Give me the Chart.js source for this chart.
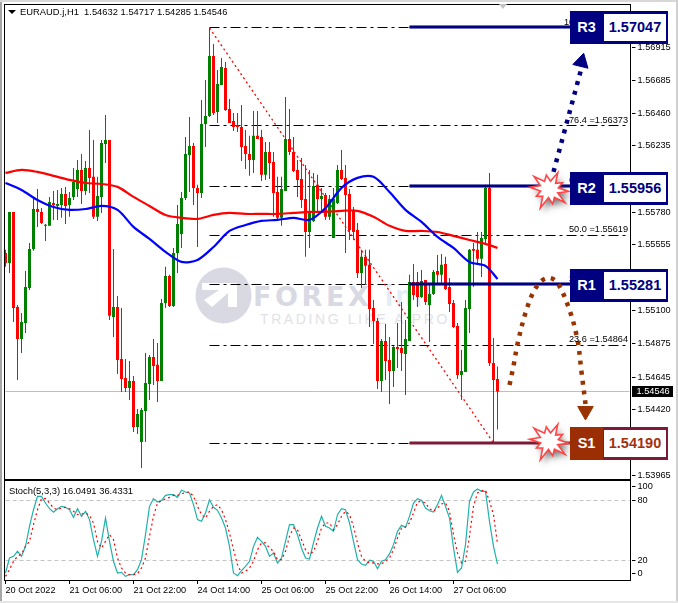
<!DOCTYPE html>
<html><head><meta charset="utf-8">
<script src="https://cdn.jsdelivr.net/npm/chart.js@4"></script>
<style>
html,body{margin:0;padding:0;background:#fff;width:678px;height:603px;overflow:hidden;font-family:"Liberation Sans",Arial,sans-serif}
canvas{position:absolute;left:0}
#main{top:0;z-index:2}#sub{top:480px;z-index:2}
.edge{position:absolute;z-index:1}
.wm{position:absolute;z-index:1;white-space:nowrap;line-height:1}
.txt{position:absolute;z-index:3;font-size:9.4px;color:#000;white-space:pre;line-height:12px}
.badge{position:absolute;z-index:4;left:570px;width:98px;height:33px;box-sizing:border-box;background:var(--c);font-weight:bold;font-family:"Liberation Sans",Arial,sans-serif}
.badge b{position:absolute;left:0;top:0;width:33px;line-height:33px;text-align:center;color:#fff;font-size:14.5px}
.badge i{position:absolute;left:34px;top:3px;width:62px;height:27px;background:#fff;font-style:normal;text-align:center;line-height:27px;font-size:14.5px;color:var(--t)}
</style></head><body>
<div class="edge" style="left:0;top:0;width:2px;height:603px;background:#a6a6a6"></div>
<div class="edge" style="left:0;top:0;width:678px;height:2px;background:#d8d8d8"></div>
<div class="edge" style="left:676px;top:0;width:2px;height:603px;background:#d0d0d0"></div>
<div class="edge" style="left:0;top:601px;width:678px;height:2px;background:#e6e6e6"></div>
<div class="edge" style="left:499px;top:4px;width:0;height:0;border-left:4px solid transparent;border-right:4px solid transparent;border-top:5px solid #c4c4c4;z-index:3"></div>
<svg class="edge" style="left:190px;top:262px" width="70" height="66"><circle cx="33.5" cy="33.5" r="28" fill="#d9d9e3"/><polygon points="12,21 47,21 47,45 38,45 38,31 22,45 14,38 29,28 12,28" fill="#fff"/></svg>
<div class="wm" style="left:253px;top:281px;font:bold 27px 'DejaVu Sans',sans-serif;letter-spacing:3.6px;color:#d9d9e3">FOREX</div>
<div class="wm" style="left:385px;top:279px;font:bold 30px 'Liberation Sans',sans-serif;letter-spacing:2px;color:#e3edf7">imf</div>
<div class="wm" style="left:260px;top:311px;font:14px 'Liberation Sans',sans-serif;letter-spacing:2.6px;color:#e2e2e6">TRADING LIKE A PRO</div>
<canvas id="main" width="678" height="480"></canvas>
<canvas id="sub" width="678" height="123"></canvas>
<div class="edge" style="left:8px;top:10px;width:0;height:0;border-left:4px solid transparent;border-right:4px solid transparent;border-top:4px solid #000;z-index:3"></div>
<div class="txt" style="left:20px;top:6px">EURAUD.j,H1  1.54632 1.54717 1.54285 1.54546</div>
<div class="txt" style="left:9px;top:485px">Stoch(5,3,3) 16.0491 36.4331</div>
<div class="badge" style="top:10.5px;--c:#000080;--t:#000080"><b>R3</b><i>1.57047</i></div>
<div class="badge" style="top:172px;--c:#000080;--t:#000080"><b>R2</b><i>1.55956</i></div>
<div class="badge" style="top:269px;--c:#000080;--t:#000080"><b>R1</b><i>1.55281</i></div>
<div class="badge" style="top:426.5px;--c:#7d1a35;--t:#a5300c"><b style="background:#9c2e06;height:33px">S1</b><i>1.54190</i></div>
<script>
const opens=[1.55499,1.55430,1.55781,1.55127,1.54907,1.55017,1.55258,1.55526,1.55801,1.55781,
1.55685,1.55685,1.55842,1.55822,1.55829,1.55904,1.55829,1.55884,1.55939,1.56070,
1.55925,1.56083,1.56022,1.55747,1.55884,1.56248,1.56276,1.55059,1.55127,1.54769,
1.54639,1.54570,1.54618,1.54302,1.54199,1.54412,1.54597,1.54783,1.54729,1.54618,
1.55154,1.55341,1.55134,1.55499,1.55629,1.55877,1.56172,1.56234,1.55946,1.55911,
1.56385,1.56441,1.56854,1.56468,1.56654,1.56771,1.56489,1.56406,1.56379,1.56365,
1.56234,1.56179,1.56138,1.56304,1.56297,1.56036,1.56193,1.56124,1.55918,1.55740,
1.55925,1.56283,1.56193,1.56070,1.56008,1.55870,1.55643,1.55719,1.55967,1.55870,
1.55897,1.55747,1.55602,1.55842,1.56070,1.56015,1.55904,1.55795,1.55657,1.55361,
1.55472,1.55417,1.55120,1.55031,1.54618,1.54893,1.54763,1.54687,1.54852,1.54845,
1.54804,1.54893,1.55299,1.55299,1.55196,1.55313,1.55141,1.55217,1.55375,1.55348,
1.55423,1.55265,1.55154,1.54997,1.54660,1.54680,1.55114,1.55526,1.55520,1.55458,
1.55595,1.55946,1.54742,1.54632];
const highs=[1.55520,1.55781,1.55781,1.55141,1.55086,1.55375,1.55567,1.55877,1.55939,1.55808,
1.55698,1.55884,1.55925,1.55932,1.55946,1.55953,1.55918,1.56083,1.56138,1.56179,
1.56131,1.56345,1.56276,1.56022,1.56276,1.56448,1.56276,1.55526,1.55203,1.55120,
1.54769,1.54756,1.54653,1.54426,1.54433,1.54810,1.54797,1.54907,1.54879,1.55182,
1.55403,1.55348,1.55533,1.55829,1.55918,1.56297,1.56434,1.56255,1.55967,1.56551,
1.56688,1.57046,1.56936,1.56757,1.56840,1.56812,1.56558,1.56461,1.56461,1.56516,
1.56345,1.56304,1.56475,1.56475,1.56345,1.56262,1.56262,1.56193,1.56022,1.56022,
1.56572,1.56489,1.56297,1.56138,1.56152,1.56104,1.56070,1.56049,1.56036,1.55946,
1.55911,1.55897,1.55946,1.56104,1.56207,1.56104,1.55939,1.55815,1.55705,1.55520,
1.55520,1.55520,1.55175,1.55052,1.54907,1.55010,1.54921,1.54859,1.55017,1.55161,
1.55038,1.55348,1.55423,1.55368,1.55382,1.55313,1.55279,1.55382,1.55485,1.55492,
1.55472,1.55327,1.55175,1.55017,1.54831,1.55175,1.55526,1.55567,1.55643,1.55643,
1.55967,1.56049,1.54914,1.54717];
const lows=[1.55403,1.55361,1.55024,1.54625,1.54810,1.54948,1.55244,1.55513,1.55678,1.55698,
1.55581,1.55685,1.55726,1.55726,1.55740,1.55698,1.55747,1.55863,1.55884,1.55835,
1.55897,1.55911,1.55733,1.55719,1.55774,1.56117,1.55038,1.54921,1.54666,1.54542,
1.54542,1.54488,1.54267,1.54253,1.54020,1.54199,1.54488,1.54591,1.54474,1.54618,
1.55120,1.55127,1.55127,1.55361,1.55533,1.55863,1.55918,1.55829,1.55540,1.55877,
1.56228,1.56434,1.56448,1.56392,1.56654,1.56475,1.56392,1.56338,1.56331,1.56131,
1.56076,1.56029,1.56049,1.56283,1.55994,1.56001,1.56008,1.55747,1.55726,1.55685,
1.55925,1.56172,1.56056,1.55884,1.55808,1.55472,1.55533,1.55712,1.55781,1.55781,
1.55726,1.55726,1.55602,1.55835,1.56001,1.55499,1.55588,1.55588,1.55327,1.55258,
1.55279,1.54990,1.54872,1.54563,1.54542,1.54625,1.54460,1.54577,1.54708,1.54687,
1.54522,1.54893,1.55175,1.55127,1.55189,1.55141,1.54886,1.55210,1.55279,1.55293,
1.55244,1.55093,1.54983,1.54632,1.54488,1.54680,1.54948,1.55265,1.55417,1.55334,
1.55554,1.54722,1.54192,1.54285];
const closes=[1.55430,1.55781,1.55120,1.54907,1.55024,1.55265,1.55526,1.55801,1.55781,1.55705,
1.55692,1.55849,1.55829,1.55835,1.55904,1.55822,1.55877,1.55987,1.56070,1.55925,
1.56083,1.56015,1.55747,1.55891,1.56255,1.56276,1.55066,1.55127,1.54763,1.54632,
1.54570,1.54618,1.54302,1.54391,1.54419,1.54604,1.54783,1.54722,1.54618,1.55154,
1.55341,1.55134,1.55499,1.55698,1.55877,1.56179,1.56234,1.55946,1.55911,1.56385,
1.56441,1.56854,1.56461,1.56660,1.56778,1.56482,1.56392,1.56365,1.56365,1.56228,
1.56179,1.56138,1.56304,1.56283,1.56036,1.56193,1.56117,1.55911,1.55740,1.55939,
1.56283,1.56193,1.56063,1.56001,1.55863,1.55643,1.55788,1.55960,1.55870,1.55891,
1.55747,1.55870,1.55870,1.56070,1.56008,1.55897,1.55657,1.55643,1.55361,1.55472,
1.55410,1.55114,1.55031,1.54618,1.54893,1.54756,1.54687,1.54852,1.54838,1.54810,
1.54907,1.55299,1.55210,1.55196,1.55306,1.55161,1.55217,1.55368,1.55348,1.55417,
1.55251,1.55147,1.54990,1.54660,1.54687,1.55120,1.55520,1.55513,1.55458,1.55602,
1.55946,1.54742,1.54625,1.54546];

const maIndex=[0,4,8,12,16,20,24,28,32,36,40,44,48,52,56,60,64,68,72,76,80,84,88,92,96,100,104,108,112,116,120,123];
const maBlue=[1.55980,1.55932,1.55863,1.55815,1.55795,1.55801,1.55822,1.55795,1.55678,1.55595,1.55506,1.55437,1.55451,1.55540,1.55650,1.55691,1.55719,1.55726,1.55740,1.55726,1.55808,1.55946,1.56015,1.56022,1.55918,1.55795,1.55712,1.55609,1.55533,1.55437,1.55410,1.55320];
const maRed=[1.56049,1.56070,1.56056,1.56029,1.56001,1.55980,1.55973,1.55953,1.55884,1.55822,1.55760,1.55740,1.55733,1.55760,1.55774,1.55767,1.55767,1.55767,1.55774,1.55781,1.55781,1.55788,1.55788,1.55747,1.55685,1.55650,1.55650,1.55643,1.55616,1.55588,1.55561,1.55533];

const stochMain=[7.1,22.2,23.9,29,23.9,34,54.2,71,84.5,84.5,
77.8,72,68.4,72,74.4,73.4,71,63.3,72,64.3,
69.4,61,40.7,23.9,39,62.6,39,18.9,7.1,7.7,
3.7,5.4,5.4,10.4,20.5,45.8,74.4,82.2,78.8,80.5,
85.5,86.2,86.2,83.5,90.6,88.9,87.9,76.1,61,59.3,
67.7,81.1,73.4,70.4,62.6,52.5,34,7.1,4.4,9.4,
13.8,18.9,34,43.1,39,34,23.9,27.3,17.2,22.2,
39,55.9,55.9,45.8,32.3,22.2,21.2,37.4,52.5,64.3,
54.2,52.5,49.2,66,72,71,57.6,39,20.5,16.2,
14.8,19.9,18.9,11.4,18.9,20.5,26.3,35.7,49.2,55.2,
53.2,64.3,77.8,82.2,80.5,72.7,70,68.7,76.1,85.5,
74.4,62.6,32.3,7.7,12.1,35.7,79.5,88.9,91.9,89.6,
89.6,59.3,34,16.0491];
const stochSignal=[3.7,10.4,18.9,23.9,26.3,34,39,55.9,71,82.2,
82.2,77.8,72.7,71,72.7,73.4,72,69.4,66,66.6,
67.7,65.3,57.6,39,32.3,39,45.8,40.7,22.2,12.1,
7.1,5.4,5.4,6.4,12.1,22.2,44.1,64.3,77.8,80.1,
81.8,83.5,85.5,85.5,86.9,88.5,88.9,84.5,74.4,66,
62.6,69.4,74.4,76.1,71,61,47.5,30.6,15.5,7.1,
8.8,12.1,18.9,30.6,37.4,37.4,32.3,29,20.5,20.5,
29,44.1,52.5,50.8,40.7,30.6,25.6,29,39,52.5,
57.6,57.6,50.8,55.9,64.3,69.4,66,54.2,37.4,23.9,
18.9,17.2,17.2,16.2,16.2,18.9,22.2,30.6,42.4,52.5,
53.5,57.6,67.7,78.8,79.5,77.8,72,69.4,72.7,76.8,
77.8,69.4,45.8,27.3,17.2,18.9,44.1,74.4,87.9,90.2,
90.6,79.5,66,36.4331];
const stochLevels=[80,20];

const priceTicks=[1.56915,1.56685,1.56460,1.56235,1.55780,1.55555,1.55100,1.54875,1.54645,1.54420,1.53965];
const xTickLabels=['20 Oct 2022','21 Oct 06:00','21 Oct 22:00','24 Oct 14:00','25 Oct 06:00','25 Oct 22:00','26 Oct 14:00','27 Oct 06:00'];
const stochTickValues=[94,80,20,7];
const stochTickLabels=['100','80','20','0'];

const fibLevels=[1.57047,1.56373,1.55956,1.55619,1.55281,1.54864,1.54190];
const fibNames=['100.0 =1.57047','76.4 =1.56373','61.8 =1.55956','50.0 =1.55619','38.2 =1.55281','23.6 =1.54864',''];
const resistLevels=[1.57047,1.55956,1.55281];
const supportLevel=1.54190;
const lastPrice=1.54546;
const trendIndex=[51,122];
const trendPrices=[1.57046,1.54192];
const bullArrowIndex=[137,144];
const bullArrowPrices=[1.56056,1.56771];
const bearCurveIndex=[126,127,128,130,132,134,136,138,141,143,144,145];
const bearCurvePrices=[1.54591,1.54722,1.54872,1.55086,1.55231,1.55306,1.55327,1.55293,1.55107,1.54900,1.54680,1.54460];

const slotCount=157;
const slots=Array.from({length:slotCount},(_,i)=>i);
const sparse=(ix,vals)=>{const a=new Array(slotCount).fill(null);ix.forEach((p,k)=>a[p]=vals[k]);return a;};
const UP='#008000',DOWN='#ff0000',NAVY='#000080',MAROON='#7d1a35',BROWN='#993300';
const FONT='"Liberation Sans",Arial,sans-serif';
const dirColor=opens.map((o,i)=>closes[i]>=o?UP:DOWN);
const hLine=(from,to,price,color,width,dash,order)=>({type:'line',data:sparse([from,to],[price,price]),spanGaps:true,borderColor:color,borderWidth:width,borderDash:dash||[],pointRadius:0,order,tension:0,borderCapStyle:'butt',snap:width%2?0.5:0});
const PLOT_RIGHT=46.5;
const zeroPad=s=>{s.paddingTop=0;s.paddingBottom=0;s.paddingLeft=0;s.paddingRight=0;};

const frame={id:'frame',afterDraw(c){const a=c.chartArea,x=c.ctx;x.save();x.strokeStyle='#000';x.lineWidth=1;
  x.strokeRect(4.5,Math.round(a.top)-0.5,626,Math.round(a.bottom-a.top)+1);x.restore();}};
const snapLines={id:'snapLines',beforeDatasetsDraw(c){c.data.datasets.forEach((d,i)=>{if(d.snap===undefined)return;
  c.getDatasetMeta(i).data.forEach(p=>{p.y=Math.floor(p.y)+d.snap;});});}};

const starRadii=[21,10,16,9,20,9,15,9,19,9,21,10,16,9,22,10,15,9,20,10];
const drawStar=(c,idx,price,dy)=>{const x=c.ctx,cx=c.scales.x.getPixelForValue(idx),cy=c.scales.y.getPixelForValue(price)+dy;
  x.save();x.beginPath();starRadii.forEach((r,k)=>{const t=k/starRadii.length*Math.PI*2-2.4;const px=cx+Math.cos(t)*r,py=cy+Math.sin(t)*r*.92;k?x.lineTo(px,py):x.moveTo(px,py);});x.closePath();
  x.shadowColor='rgba(70,70,70,.75)';x.shadowBlur=6;x.shadowOffsetX=3;x.shadowOffsetY=4;x.fillStyle='#fff';x.fill();
  x.shadowColor='transparent';x.strokeStyle='#ff4545';x.lineWidth=1.6;x.stroke();x.restore();};

const overlays={id:'overlays',afterDraw(c){const x=c.ctx,sy=c.scales.y;
  x.save();x.font='9.2px '+FONT;x.fillStyle='#000';x.textAlign='right';x.textBaseline='bottom';
  fibLevels.forEach((p,i)=>{if(fibNames[i])x.fillText(fibNames[i],628,Math.round(sy.getPixelForValue(p))-0.5);});
  const py=Math.round(sy.getPixelForValue(lastPrice));
  x.fillStyle='#000';x.fillRect(632,py-5,41,11);x.fillStyle='#fff';x.textAlign='left';x.textBaseline='middle';x.font='9.2px '+FONT;x.fillText(lastPrice.toFixed(5),636.5,py+0.5);
  x.restore();
  drawStar(c,136,resistLevels[1],3);drawStar(c,136,supportLevel,-2);}};

const bodyData=opens.map((o,i)=>[o,closes[i]]);
const wickData=lows.map((l,i)=>[l,highs[i]]);
const mainDatasets=[
  hLine(0,156,lastPrice,'#bfbfbf',1,[],100),
  ...fibLevels.map(p=>hLine(51,156,p,'#000',1,[10,4,3,4],90)),
  {type:'line',data:sparse(trendIndex,trendPrices),spanGaps:true,borderColor:DOWN,borderWidth:1.3,borderDash:[2,3],pointRadius:0,order:80},
  {type:'bar',data:wickData,backgroundColor:dirColor,barThickness:1,grouped:false,inflateAmount:0,order:70},
  {type:'bar',data:bodyData,backgroundColor:dirColor,barThickness:3,grouped:false,inflateAmount:0,order:60},
  {type:'line',data:sparse(maIndex,maRed),spanGaps:true,borderColor:DOWN,borderWidth:2.2,pointRadius:0,tension:.3,order:50},
  {type:'line',data:sparse(maIndex,maBlue),spanGaps:true,borderColor:'#0000ff',borderWidth:2.2,pointRadius:0,tension:.3,order:49},
  ...resistLevels.flatMap(p=>[hLine(101,142,p,'rgba(0,0,128,.55)',4,[],41),hLine(101,142,p,NAVY,2,[],40)]),
  hLine(101,142,supportLevel,'rgba(125,26,53,.5)',4,[],41),hLine(101,142,supportLevel,MAROON,2,[],40),
  {type:'line',data:sparse(bullArrowIndex,bullArrowPrices),spanGaps:true,borderColor:NAVY,borderWidth:4.5,borderDash:[4,6],pointRadius:0,order:30},
  {type:'line',data:sparse([144],[1.56812]),borderColor:NAVY,backgroundColor:NAVY,pointBackgroundColor:NAVY,pointBorderColor:NAVY,pointStyle:'triangle',pointRadius:9,pointRotation:14,showLine:false,order:29},
  {type:'line',data:sparse(bearCurveIndex,bearCurvePrices),spanGaps:true,borderColor:BROWN,borderWidth:4.5,borderDash:[4,6],pointRadius:0,tension:.35,order:30},
  {type:'line',data:sparse([145],[1.54412]),borderColor:BROWN,backgroundColor:BROWN,pointBackgroundColor:BROWN,pointBorderColor:BROWN,pointStyle:'triangle',pointRadius:9,pointRotation:180,showLine:false,order:29}
];
const quiet={legend:{display:false},tooltip:{enabled:false}};
new Chart(document.getElementById('main'),{type:'bar',data:{labels:slots,datasets:mainDatasets},plugins:[snapLines,frame,overlays],options:{
  responsive:false,animation:false,events:[],plugins:quiet,
  layout:{autoPadding:false,padding:{left:3.5,top:5,bottom:1,right:0}},
  scales:{
    x:{display:false,offset:true,grid:{display:false}},
    y:{position:'right',min:1.53944,max:1.57204,afterFit(s){s.width=PLOT_RIGHT;zeroPad(s);},
       afterBuildTicks(s){s.ticks=priceTicks.map(v=>({value:v}));},
       border:{display:false},grid:{drawOnChartArea:false,drawTicks:true,tickLength:4,color:'#000'},
       ticks:{autoSkip:false,padding:2,color:'#000',font:{family:FONT,size:9.2},callback:v=>v.toFixed(5)}}
  }}});

const stochDatasets=[
  ...stochLevels.map(l=>({data:new Array(slotCount).fill(l),borderColor:'#c0c0c0',borderWidth:1,borderDash:[4,3],pointRadius:0,order:9,snap:0.5})),
  {data:stochMain,borderColor:'#20b2aa',borderWidth:1.2,pointRadius:0,tension:0,order:2},
  {data:stochSignal,borderColor:DOWN,borderWidth:1.2,borderDash:[2,3],pointRadius:0,tension:0,order:1}
];
new Chart(document.getElementById('sub'),{type:'line',data:{labels:slots,datasets:stochDatasets},plugins:[snapLines,frame],options:{
  responsive:false,animation:false,events:[],plugins:quiet,
  layout:{autoPadding:false,padding:{left:3.5,top:1,bottom:0,right:0}},
  scales:{
    x:{offset:true,afterFit(s){s.height=23;zeroPad(s);},
       afterBuildTicks(s){s.ticks=s.ticks.filter(t=>t.value%16===0&&t.value/16<xTickLabels.length);},
       border:{display:false},grid:{drawOnChartArea:false,drawTicks:true,tickLength:4,color:'#000'},
       ticks:{autoSkip:false,maxRotation:0,minRotation:0,align:'start',padding:1,color:'#000',font:{family:FONT,size:9.2},callback:v=>xTickLabels[v/16]}},
    y:{position:'right',min:0,max:100,afterFit(s){s.width=PLOT_RIGHT;zeroPad(s);},
       afterBuildTicks(s){s.ticks=stochTickValues.map(v=>({value:v}));},
       border:{display:false},grid:{drawOnChartArea:false,drawTicks:true,tickLength:4,color:'#000'},
       ticks:{autoSkip:false,padding:2,color:'#000',font:{family:FONT,size:9.2},callback:(v,i)=>stochTickLabels[i]}}
  }}});
</script>
</body></html>
